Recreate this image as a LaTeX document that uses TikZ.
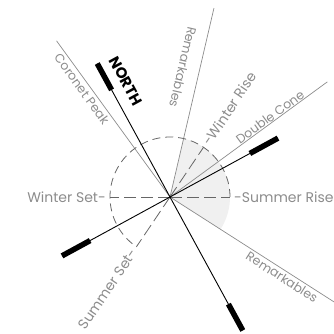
\documentclass[tikz,border=0pt]{standalone}
\usepackage{fontspec}
\setmainfont{Poppins}
\usetikzlibrary{positioning}

\begin{document}
\begin{tikzpicture}[
  x=1pt,y=1pt,
  font=\fontsize{14}{17}\selectfont,
  view/.style={draw=black!45,line width=.7pt},
  sunray/.style={draw=black!60,line width=.8pt,dash pattern=on 12pt off 5pt},
  path/.style={draw=black!60,line width=.8pt,dash pattern=on 8pt off 5pt},
  axis/.style={draw=black,line width=.9pt},
  bar/.style={draw=black,line width=5.5pt},
  peak/.style={text=black!45,font=\fontsize{12.5}{15}\selectfont,inner sep=1pt},
  sun/.style={text=black!45,inner sep=0pt}
]
\useasboundingbox (-170,-136) rectangle (164,197);
\coordinate (c) at (0,0);

% sector facing the Remarkables
\fill[black!6] (c) -- (-32.6:60) arc[start angle=-32.6,end angle=76.9,radius=60] -- cycle;

% sight lines
\coordinate (coronet) at (126:193);
\coordinate (remN) at (76.9:194);
\coordinate (double) at (36.2:195);
\coordinate (remS) at (-32.6:195);
\draw[view] (c) -- (coronet);
\draw[view] (c) -- (remN);
\draw[view] (c) -- (double);
\draw[view] (c) -- (remS);

% sun rise / set
\coordinate (wrise) at (56:64);
\coordinate (srise) at (0:64);
\coordinate (wset) at (180:64);
\coordinate (sset) at (236:64);
\draw[path] (0:60) arc[start angle=0,end angle=236,radius=60];
\draw[sunray] (c) -- (56:60);
\draw[sunray] (c) -- (0:60);
\draw[sunray] (c) -- (180:60);
\draw[sunray] (c) -- (236:60);

% compass
\coordinate (n) at (118.6:152);
\coordinate (s) at (-61.4:152);
\coordinate (e) at (28.6:123);
\coordinate (w) at (208.6:123);
\draw[axis] (n) -- (s);
\draw[axis] (e) -- (w);
\draw[bar] (118.6:122) -- (n);
\draw[bar] (-61.4:122) -- (s);
\draw[bar] (28.6:91) -- (e);
\draw[bar] (208.6:91) -- (w);

\node[font=\fontsize{15}{17}\selectfont\bfseries,rotate=-61.4] (north) at (-44,116) {NORTH};

\node[peak,rotate=-54] (lcoronet) at (-88,108) {Coronet Peak};
\node[peak,rotate=-103.1] (lremN) at (13,130) {Remarkables};
\node[peak,rotate=36.2] (ldouble) at (100,80) {Double Cone};
\node[peak,rotate=-32.6] (lremS) at (112,-80) {Remarkables};

\node[sun,anchor=west,rotate=56] (lwrise) at (wrise) {-Winter Rise};
\node[sun,anchor=west] (lsrise) at (srise) {-Summer Rise};
\node[sun,anchor=east] (lwset) at (wset) {Winter Set-};
\node[sun,anchor=east,rotate=56] (lsset) at (sset) {Summer Set-};
\end{tikzpicture}
\end{document}
